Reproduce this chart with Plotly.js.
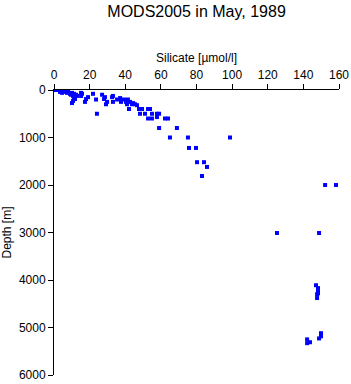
<!DOCTYPE html>
<html>
<head>
<meta charset="utf-8">
<script src="https://cdn.plot.ly/plotly-3.0.1.min.js"></script>
<style>html,body{margin:0;padding:0;background:#fff;}#chart{width:351px;height:384px;}</style>
</head>
<body>
<div id="chart"></div>
<script>
var silicate = [0.6,1.7,2.8,3.9,5.0,5.6,6.2,3.4,4.5,7.3,7.9,9.0,10.1,11.2,9.5,10.7,12.4,12.9,11.2,10.7,10.1,11.8,15.2,15.7,15.2,18.0,17.4,19.1,21.9,23.6,24.1,27.0,28.1,28.6,29.2,29.8,32.6,33.1,33.1,35.4,37.1,37.6,39.3,40.4,41.5,42.7,43.8,41.0,42.1,44.4,45.5,46.6,47.7,49.4,48.3,51.1,52.8,53.9,52.8,55.0,55.0,57.8,59.0,57.8,59.0,62.3,64.0,69.0,65.1,75.2,98.8,75.8,79.7,80.3,84.2,85.9,83.1,152.2,158.3,125.2,148.8,147.1,148.2,148.2,147.7,148.2,147.7,149.9,149.9,148.8,142.1,143.7,142.1];
var depth = [0,0,0,20,20,0,40,40,60,60,40,80,60,80,100,125,100,125,150,230,275,190,60,80,125,190,250,150,80,200,500,100,190,150,300,250,150,125,250,200,170,250,200,250,200,250,300,300,400,275,300,320,400,400,500,500,400,400,600,500,600,500,500,570,800,600,600,800,1000,1000,1000,1220,1220,1520,1520,1620,1810,2000,2000,3010,3010,4110,4170,4240,4300,4280,4380,5120,5185,5230,5250,5310,5330];
var xTicks = [0,20,40,60,80,100,120,140,160];
var yTicks = [0,1000,2000,3000,4000,5000,6000];

var trace = {
  x: silicate, y: depth, type: 'scatter', mode: 'markers',
  marker: {symbol: 'square', size: 4, color: '#0000ff', line: {width: 0}},
  hoverinfo: 'none'
};
var fnt = {family: 'Liberation Sans, Arial, sans-serif', size: 12, color: '#000'};
var layout = {
  width: 351, height: 384,
  margin: {l: 54, r: 12, t: 90, b: 9, pad: 0},
  paper_bgcolor: '#fff', plot_bgcolor: '#fff',
  showlegend: false,
  title: {text: 'MODS2005 in May, 1989', font: {family: 'Liberation Sans, Arial, sans-serif', size: 16, color: '#000'}, x: 0.56, xanchor: 'center', y: 0.97, yanchor: 'middle'},
  xaxis: {
    side: 'top', range: [0, 160], tickvals: xTicks, ticktext: xTicks.map(String),
    showgrid: false, zeroline: false, showline: true, linecolor: '#000', linewidth: 1,
    ticks: 'outside', ticklen: 5, tickcolor: '#000', tickwidth: 1, tickfont: fnt,
    title: {text: 'Silicate [µmol/l]', font: fnt, standoff: 3}
  },
  yaxis: {
    range: [6000, 0], tickvals: yTicks, ticktext: yTicks.map(String),
    showgrid: false, zeroline: false, showline: true, linecolor: '#000', linewidth: 1,
    ticks: 'outside', ticklen: 5, tickcolor: '#000', tickwidth: 1, tickfont: fnt,
    title: {text: 'Depth [m]', font: fnt, standoff: 4}
  }
};
Plotly.newPlot('chart', [trace], layout, {staticPlot: true, displayModeBar: false});
</script>
</body>
</html>
